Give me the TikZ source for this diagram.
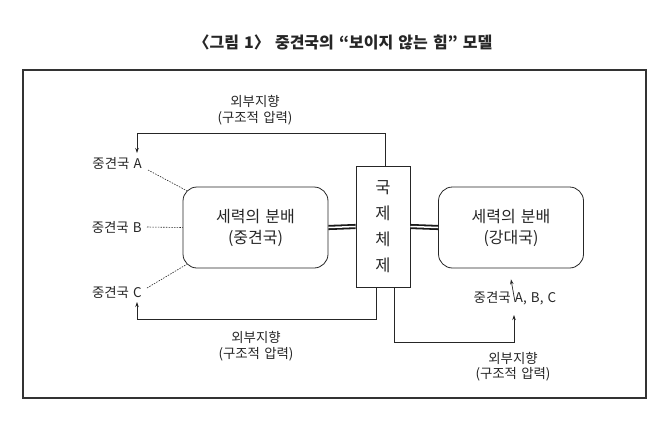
\documentclass[tikz,border=0pt]{standalone}
\usepackage{fontspec}
\setmainfont{Noto Sans CJK KR}[WordSpace=1.4]
\usetikzlibrary{arrows.meta}

\begin{document}
\begin{tikzpicture}
[x=1pt,y=-1pt,
every node/.style={inner sep=0pt,text=black!85,font=\fontsize{13.4}{16}\selectfont},
distbox/.style={draw=black!85,line width=0.8pt,rounded corners=14pt,
  minimum width=145pt,minimum height=81pt,align=center,
  font=\fontsize{16}{21}\selectfont},
sysbox/.style={draw=black!85,line width=0.8pt,minimum width=54pt,
  minimum height=121pt,align=center,font=\fontsize{16.5}{26}\selectfont},
press/.style={align=center},
arw/.style={draw=black!85,line width=0.7pt,-{Stealth[length=5pt,width=3.5pt]}},
dots/.style={draw=black!85,line width=0.6pt,dash pattern=on 1.5pt off 1.2pt},
dbl/.style={draw=black!90,line width=1.8pt,double=white,double distance=1.5pt},
]
\useasboundingbox (0,0) rectangle (662,424);
\node[font=\bfseries\fontsize{16}{18}\selectfont] (title) at (343,42)
  {〈그림 1〉 중견국의 “보이지 않는 힘” 모델};
\draw[black!80,line width=1.3pt] (23,70) rectangle (646,398);

% boxes
\node[distbox] (midL) at (255.5,227.5) {세력의 분배\\(중견국)};
\node[sysbox] (sys) at (383,226.5) {국\\제\\체\\제};
\node[distbox] (great) at (511,227.5) {세력의 분배\\(강대국)};
\draw[dbl] (midL.east) -- (sys.west);
\draw[dbl] (sys.east) -- (great.west);

% middle powers
\node[anchor=east] (stA) at (142,163) {중견국 A};
\node[anchor=east] (stB) at (142,227) {중견국 B};
\node[anchor=east] (stC) at (142,292) {중견국 C};
\node (stABC) at (515,298) {중견국 A, B, C};
\draw[dots] ([shift={(6,7)}]stA.east) -- ([shift={(4,4)}]midL.north west);
\draw[dots] ([xshift=5]stB.east) -- (midL.west);
\draw[dots] ([shift={(5,-4)}]stC.east) -- ([shift={(4,-4)}]midL.south west);

% structural pressure
\coordinate (tipA) at (137,153);
\coordinate (tipC) at (137,302);
\coordinate (tipABC) at (514,315);
\draw[arw] ([xshift=2]sys.north) -- ++(0,-32) -| (tipA);
\draw[arw] ([xshift=-7]sys.south) -- ++(0,32) -| (tipC);
\draw[arw] ([xshift=11]sys.south) -- ++(0,55) -| (tipABC);
\draw[arw] ([yshift=-11]stABC.north) -- ([yshift=-11]great.south);
\node[press] (pressTop) at (255,110) {외부지향\\(구조적 압력)};
\node[press] (pressBot) at (256,346) {외부지향\\(구조적 압력)};
\node[press,font=\fontsize{13.4}{15}\selectfont] (pressRight) at (513,367) {외부지향\\(구조적 압력)};
\end{tikzpicture}
\end{document}
